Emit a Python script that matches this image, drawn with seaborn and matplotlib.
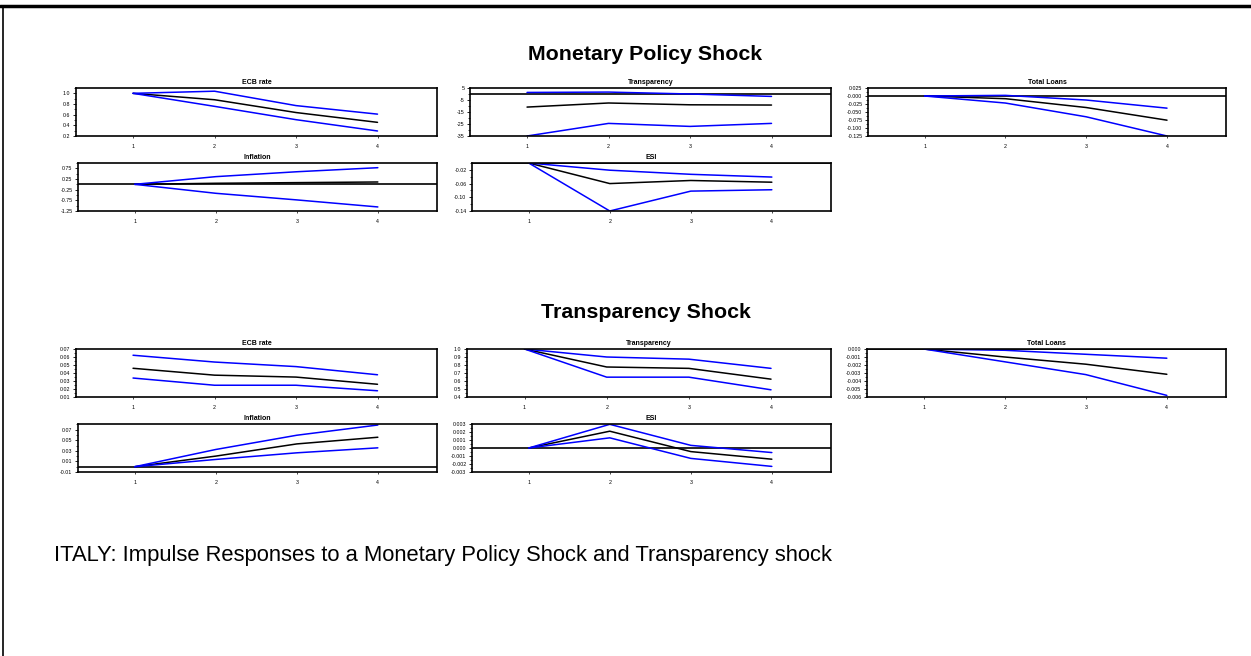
import numpy as np
import pandas as pd
import seaborn as sns
import matplotlib
matplotlib.use("Agg")
import matplotlib.pyplot as plt
from matplotlib.ticker import AutoMinorLocator, FormatStrFormatter, FixedLocator
from matplotlib.lines import Line2D

sns.set_style("white")
plt.rcParams["font.family"] = ["Liberation Sans", "DejaVu Sans"]
plt.rcParams["text.color"] = "black"
plt.rcParams["xtick.color"] = "black"
plt.rcParams["ytick.color"] = "black"
plt.rcParams["axes.labelcolor"] = "black"

steps = [1, 2, 3, 4]

# Monetary policy shock: (upper band, response, lower band)
mp_ecb_up = [1.0, 1.04, 0.77, 0.61]
mp_ecb_mid = [1.0, 0.88, 0.64, 0.456]
mp_ecb_lo = [1.0, 0.756, 0.506, 0.294]

mp_tr_up = [1.3, 1.6, 0.0, -2.0]
mp_tr_mid = [-10.9, -7.5, -9.0, -9.2]
mp_tr_lo = [-35.0, -24.5, -27.0, -24.5]

mp_tl_up = [0.0, 0.002, -0.0126, -0.038]
mp_tl_mid = [0.0, -0.0084, -0.036, -0.0756]
mp_tl_lo = [0.0, -0.022, -0.065, -0.125]

mp_inf_up = [0.0, 0.36, 0.59, 0.78]
mp_inf_mid = [0.0, 0.05, 0.08, 0.11]
mp_inf_lo = [0.0, -0.42, -0.73, -1.06]

mp_esi_up = [0.0, -0.021, -0.033, -0.041]
mp_esi_mid = [0.0, -0.060, -0.051, -0.056]
mp_esi_lo = [0.0, -0.140, -0.082, -0.078]

# Transparency shock
ts_ecb_up = [0.0622, 0.0537, 0.048, 0.0378]
ts_ecb_mid = [0.0459, 0.0373, 0.0349, 0.0259]
ts_ecb_lo = [0.0337, 0.0247, 0.0247, 0.0178]

ts_tr_up = [1.0, 0.90, 0.873, 0.758]
ts_tr_mid = [1.0, 0.775, 0.758, 0.623]
ts_tr_lo = [1.0, 0.648, 0.648, 0.49]

ts_tl_up = [0.0, -0.00016, -0.00066, -0.00115]
ts_tl_mid = [0.0, -0.0010, -0.0019, -0.00316]
ts_tl_lo = [0.0, -0.0016, -0.0032, -0.0058]

ts_inf_up = [0.0, 0.0325, 0.0594, 0.0787]
ts_inf_mid = [0.0, 0.020, 0.043, 0.0556]
ts_inf_lo = [0.0, 0.0137, 0.0262, 0.0356]

ts_esi_up = [0.0, 0.00296, 0.00033, -0.00057]
ts_esi_mid = [0.0, 0.0021, -0.00045, -0.0014]
ts_esi_lo = [0.0, 0.00127, -0.0013, -0.0023]

panel_titles = ["ECB rate", "Transparency", "Total Loans", "Inflation", "ESI"]

W, H = 1251, 656
fig = plt.figure(figsize=(W / 100, H / 100), dpi=100)
fig.patch.set_facecolor("white")


def box(l, t, r, b):
    return [l / W, 1 - b / H, (r - l) / W, (b - t) / H]


def panel(rect, title, up, mid, lo, ylim, major, fmt):
    ax = fig.add_axes(box(*rect))
    df = pd.DataFrame({
        "step": steps * 3,
        "value": list(mid) + list(up) + list(lo),
        "band": ["irf"] * 4 + ["upper"] * 4 + ["lower"] * 4,
    })
    ax.axhline(0, color="black", lw=1.2, zorder=1)
    sns.lineplot(data=df, x="step", y="value", hue="band", units="band",
                 estimator=None, palette={"irf": "black", "upper": "#0000ff", "lower": "#0000ff"},
                 legend=False, lw=1.1, ax=ax, zorder=2)
    ax.set_xlim(0.3, 4.73)
    ax.set_ylim(*ylim)
    ax.set_xticks(steps)
    ax.set_xticklabels([str(s) for s in steps])
    ax.yaxis.set_major_locator(FixedLocator(major))
    ax.yaxis.set_minor_locator(AutoMinorLocator(2))
    ax.yaxis.set_major_formatter(FormatStrFormatter(fmt))
    ax.set_xlabel("")
    ax.set_ylabel("")
    ax.set_title(title, fontsize=5, fontweight="bold", pad=3)
    ax.tick_params(axis="y", which="major", direction="out", length=2.5, width=0.6,
                   labelsize=3.8, pad=1.5, left=True)
    ax.tick_params(axis="y", which="minor", direction="out", length=1.5, width=0.5, left=True)
    ax.tick_params(axis="x", direction="out", length=1.5, width=0.5, labelsize=3.8,
                   pad=4, bottom=True)
    for s in ax.spines.values():
        s.set_color("black")
        s.set_linewidth(1.2)
    return ax


# Monetary policy shock block
fig.text(0.516, 1 - 55 / H, "Monetary Policy Shock", ha="center", va="center",
         fontsize=15.4, fontweight="bold")
panel((76, 88, 437, 136), panel_titles[0], mp_ecb_up, mp_ecb_mid, mp_ecb_lo,
      (0.2, 1.1), [0.2, 0.4, 0.6, 0.8, 1.0], "%.1f")
panel((470, 88, 831, 136), panel_titles[1], mp_tr_up, mp_tr_mid, mp_tr_lo,
      (-35, 5), [5, -5, -15, -25, -35], "%d")
panel((868, 88, 1226, 136), panel_titles[2], mp_tl_up, mp_tl_mid, mp_tl_lo,
      (-0.125, 0.025), list(np.arange(-0.125, 0.026, 0.025)), "%.3f")
panel((78, 163, 437, 211), panel_titles[3], mp_inf_up, mp_inf_mid, mp_inf_lo,
      (-1.25, 1.0), [0.75, 0.25, -0.25, -0.75, -1.25], "%.2f")
panel((472, 163, 831, 211), panel_titles[4], mp_esi_up, mp_esi_mid, mp_esi_lo,
      (-0.14, 0.0), [-0.02, -0.06, -0.10, -0.14], "%.2f")

# Transparency shock block
fig.text(0.516, 1 - 313 / H, "Transparency Shock", ha="center", va="center",
         fontsize=15.4, fontweight="bold")
panel((76, 349, 437, 397), panel_titles[0], ts_ecb_up, ts_ecb_mid, ts_ecb_lo,
      (0.01, 0.07), list(np.arange(0.01, 0.0701, 0.01)), "%.2f")
panel((467, 349, 831, 397), panel_titles[1], ts_tr_up, ts_tr_mid, ts_tr_lo,
      (0.4, 1.0), list(np.arange(0.4, 1.001, 0.1)), "%.1f")
panel((867, 349, 1226, 397), panel_titles[2], ts_tl_up, ts_tl_mid, ts_tl_lo,
      (-0.006, 0.0), list(np.arange(-0.006, 0.0001, 0.001)), "%.3f")
panel((78, 424, 437, 472), panel_titles[3], ts_inf_up, ts_inf_mid, ts_inf_lo,
      (-0.01, 0.0806), [-0.01, 0.01, 0.03, 0.05, 0.07], "%.2f")
panel((472, 424, 831, 472), panel_titles[4], ts_esi_up, ts_esi_mid, ts_esi_lo,
      (-0.003, 0.003), list(np.arange(-0.003, 0.00301, 0.001)), "%.3f")

fig.text(54 / W, 1 - 555 / H,
         "ITALY: Impulse Responses to a Monetary Policy Shock and Transparency shock",
         ha="left", va="center", fontsize=15.8)

# page frame: heavy top rule and thin left rule
fig.add_artist(Line2D([0, 1], [1 - 6 / H, 1 - 6 / H], transform=fig.transFigure,
                      color="black", lw=2.5))
fig.add_artist(Line2D([3 / W, 3 / W], [0, 1 - 6 / H], transform=fig.transFigure,
                      color="black", lw=1.2))

fig.savefig("out.png", dpi=100, facecolor="white")
